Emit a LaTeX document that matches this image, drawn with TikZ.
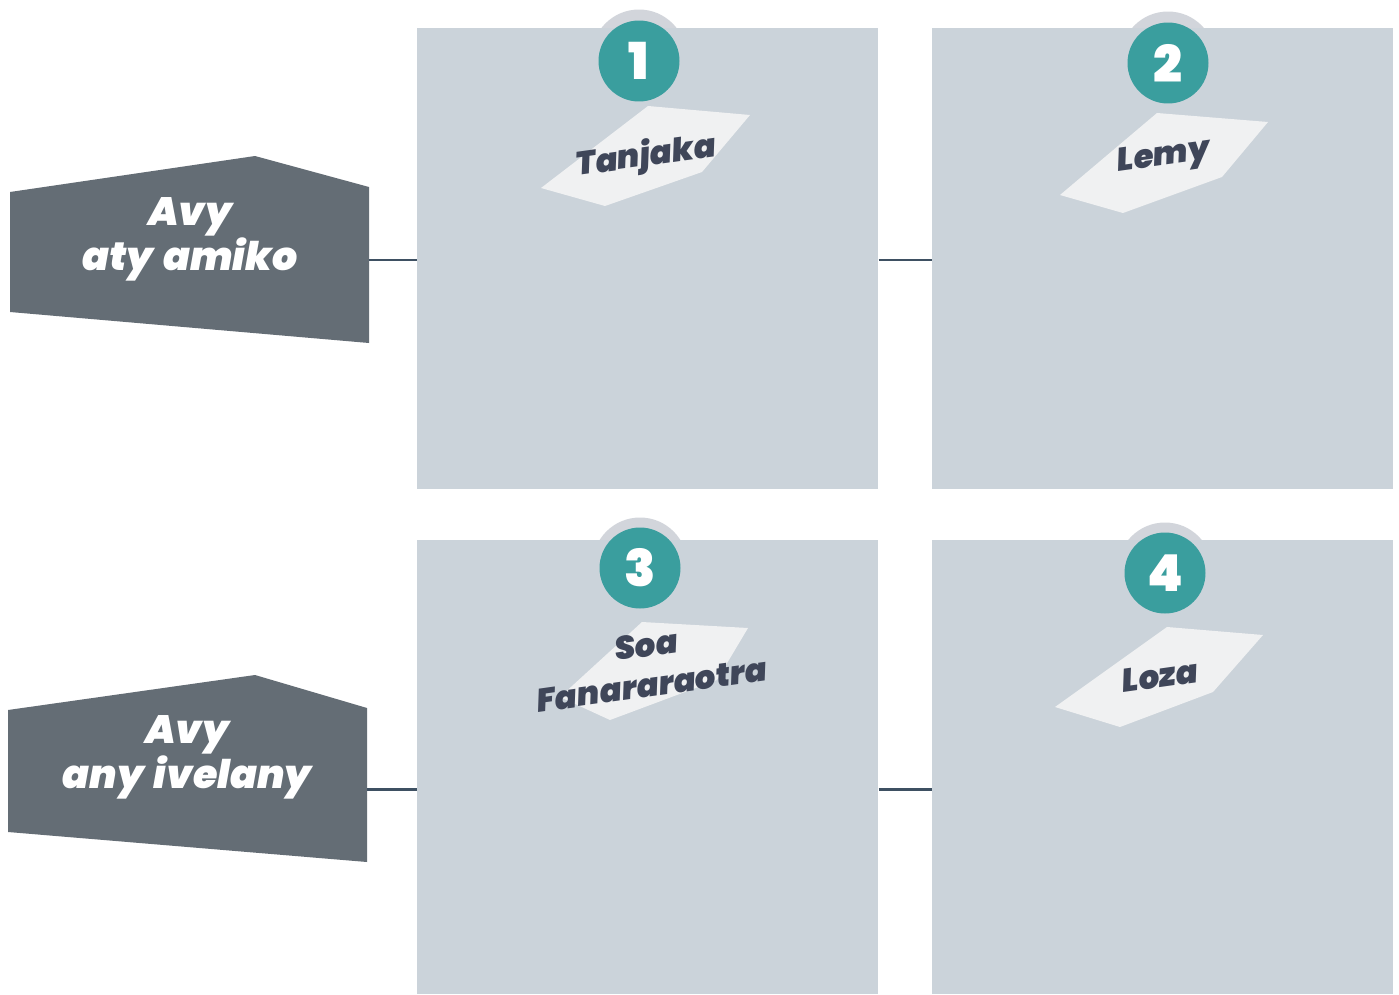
\documentclass[tikz,border=0pt]{standalone}
\usepackage{fontspec}
\setmainfont{Poppins}[BoldFont={* Black},BoldItalicFont={* Black Italic},WordSpace=1.5]
\begin{document}
\begin{tikzpicture}[x=0.02cm,y=-0.02cm,
  panel/.style={fill=panelc,draw=none,minimum width=9.22cm,anchor=north west,inner sep=0pt},
  halo/.style={circle,fill=haloc,minimum size=1.9cm,inner sep=0pt},
  badge/.style={circle,fill=tealc,minimum size=1.62cm,inner sep=0pt,text=white,font=\fontsize{29}{30}\selectfont\bfseries},
  tag/.style={fill=tagc,draw=none},
  tagtext/.style={text=navy,font=\fontsize{18.5}{23}\selectfont\bfseries\itshape,rotate=8,align=center,inner sep=0pt},
  side/.style={fill=sidec,draw=none},
  sidetext/.style={text=white,font=\fontsize{22.5}{24.5}\selectfont\bfseries\itshape,align=center,inner sep=0pt},
  conn/.style={draw=linec,line width=1.7pt}]
\definecolor{panelc}{HTML}{CBD3DA}
\definecolor{haloc}{HTML}{D2D5DB}
\definecolor{tealc}{HTML}{3A9E9E}
\definecolor{tagc}{HTML}{F0F1F2}
\definecolor{navy}{HTML}{3F4659}
\definecolor{sidec}{HTML}{646D75}
\definecolor{linec}{HTML}{3E5062}
\useasboundingbox[fill=white] (0,0) rectangle (1399,994);

% panels
\node[panel,minimum height=9.22cm] (p1) at (417,28) {};
\node[panel,minimum height=9.22cm] (p2) at (932,28) {};
\node[panel,minimum height=9.08cm] (p3) at (417,540) {};
\node[panel,minimum height=9.08cm] (p4) at (932,540) {};

% badges
\node[halo] (h1) at (639,57) {};
\node[halo] (h2) at (1168,59) {};
\node[halo] (h3) at (640,565) {};
\node[halo] (h4) at (1165,570) {};
\fill[panelc] (417,28) rectangle (878,110);
\fill[panelc] (932,28) rectangle (1392,110);
\fill[panelc] (417,540) rectangle (878,620);
\fill[panelc] (932,540) rectangle (1392,620);
\node[badge] (b1) at (639,61) {1};
\node[badge] (b2) at (1168,63) {2};
\node[badge] (b3) at (640,568) {3};
\node[badge] (b4) at (1165,573) {4};

% tags
\fill[tag] (648,106) -- (750,115) -- (702,172) -- (605,206) -- (541,188) -- cycle;
\fill[tag] (1157,113) -- (1268,122) -- (1222,177) -- (1123,213) -- (1060,195) -- cycle;
\fill[tag] (642,622) -- (748,628) -- (717,680) -- (610,720) -- (560,697) -- cycle;
\fill[tag] (1167,627) -- (1263,635) -- (1213,692) -- (1120,727) -- (1055,707) -- cycle;
\node[tagtext] (t1) at (646,157) {Tanjaka};
\node[tagtext] (t2) at (1164,158) {Lemy};
\node[tagtext] (t3) at (649,665) {Soa\\Fanararaotra};
\node[tagtext] (t4) at (1160,676) {Loza};

% side labels
\fill[side] (10,192) -- (255,156) -- (369,187) -- (369,343) -- (10,312) -- cycle;
\fill[side] (8,710) -- (255,675) -- (367,708) -- (367,862) -- (8,832) -- cycle;
\node[sidetext] (s1) at (190,239) {Avy\\aty amiko};
\node[sidetext] (s2) at (187,757) {Avy\\any ivelany};
\coordinate (c1) at (369,260);
\coordinate (c2) at (367,789);

% connectors
\draw[conn] (c1) -- (p1.west |- c1);
\draw[conn] (p1.east |- c1) -- (p2.west |- c1);
\draw[conn] (c2) -- (p3.west |- c2);
\draw[conn] (p3.east |- c2) -- (p4.west |- c2);
\end{tikzpicture}
\end{document}
